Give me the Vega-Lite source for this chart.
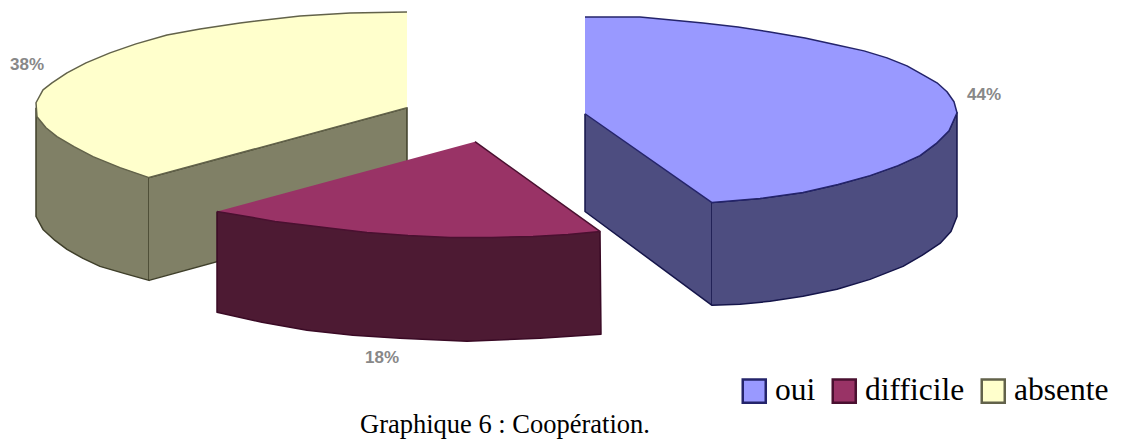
{
"$schema":"https://vega.github.io/schema/vega-lite/v6.json",
"autosize":{"type":"fit","contains":"padding"},
"width":1122,"height":439,"padding":0,
"background":"#ffffff",
"view":{"stroke":null},
"datasets":{
"faces":[
{"slice":"absente","face":"wall1","order":1,"x":36,"y":108},{"slice":"absente","face":"wall1","order":2,"x":36,"y":217},{"slice":"absente","face":"wall1","order":3,"x":43,"y":230},{"slice":"absente","face":"wall1","order":4,"x":55,"y":241},{"slice":"absente","face":"wall1","order":5,"x":67,"y":250},{"slice":"absente","face":"wall1","order":6,"x":83,"y":259},{"slice":"absente","face":"wall1","order":7,"x":100,"y":267},{"slice":"absente","face":"wall1","order":8,"x":124,"y":274},{"slice":"absente","face":"wall1","order":9,"x":149,"y":281},{"slice":"absente","face":"wall1","order":10,"x":149,"y":178},
{"slice":"absente","face":"wall2","order":1,"x":149,"y":178},{"slice":"absente","face":"wall2","order":2,"x":407,"y":108},{"slice":"absente","face":"wall2","order":3,"x":407,"y":210},{"slice":"absente","face":"wall2","order":4,"x":149,"y":281},
{"slice":"oui","face":"wall1","order":1,"x":585,"y":114},{"slice":"oui","face":"wall1","order":2,"x":585,"y":212},{"slice":"oui","face":"wall1","order":3,"x":712,"y":306},{"slice":"oui","face":"wall1","order":4,"x":712,"y":203},
{"slice":"oui","face":"wall2","order":1,"x":712,"y":203},{"slice":"oui","face":"wall2","order":2,"x":760,"y":199},{"slice":"oui","face":"wall2","order":3,"x":803,"y":193},{"slice":"oui","face":"wall2","order":4,"x":838,"y":185},{"slice":"oui","face":"wall2","order":5,"x":870,"y":176},{"slice":"oui","face":"wall2","order":6,"x":898,"y":166},{"slice":"oui","face":"wall2","order":7,"x":920,"y":156},{"slice":"oui","face":"wall2","order":8,"x":936,"y":144},{"slice":"oui","face":"wall2","order":9,"x":949,"y":131},{"slice":"oui","face":"wall2","order":10,"x":957,"y":113},{"slice":"oui","face":"wall2","order":11,"x":957,"y":217},{"slice":"oui","face":"wall2","order":12,"x":951,"y":232},{"slice":"oui","face":"wall2","order":13,"x":940,"y":244},{"slice":"oui","face":"wall2","order":14,"x":922,"y":256},{"slice":"oui","face":"wall2","order":15,"x":903,"y":267},{"slice":"oui","face":"wall2","order":16,"x":870,"y":280},{"slice":"oui","face":"wall2","order":17,"x":837,"y":290},{"slice":"oui","face":"wall2","order":18,"x":803,"y":297},{"slice":"oui","face":"wall2","order":19,"x":770,"y":302},{"slice":"oui","face":"wall2","order":20,"x":740,"y":305},{"slice":"oui","face":"wall2","order":21,"x":712,"y":306},
{"slice":"difficile","face":"wall1","order":1,"x":217,"y":212},{"slice":"difficile","face":"wall1","order":2,"x":217,"y":313},{"slice":"difficile","face":"wall1","order":3,"x":262,"y":323},{"slice":"difficile","face":"wall1","order":4,"x":307,"y":331},{"slice":"difficile","face":"wall1","order":5,"x":353,"y":336},{"slice":"difficile","face":"wall1","order":6,"x":400,"y":339},{"slice":"difficile","face":"wall1","order":7,"x":467,"y":342},{"slice":"difficile","face":"wall1","order":8,"x":540,"y":339},{"slice":"difficile","face":"wall1","order":9,"x":601,"y":335},{"slice":"difficile","face":"wall1","order":10,"x":600,"y":232}
],
"tops":[
{"slice":"absente","order":1,"x":407,"y":12},{"slice":"absente","order":2,"x":350,"y":13},{"slice":"absente","order":3,"x":300,"y":16},{"slice":"absente","order":4,"x":240,"y":23},{"slice":"absente","order":5,"x":200,"y":29},{"slice":"absente","order":6,"x":167,"y":35},{"slice":"absente","order":7,"x":136,"y":44},{"slice":"absente","order":8,"x":110,"y":53},{"slice":"absente","order":9,"x":86,"y":63},{"slice":"absente","order":10,"x":67,"y":73},{"slice":"absente","order":11,"x":52,"y":83},{"slice":"absente","order":12,"x":43,"y":90},{"slice":"absente","order":13,"x":36,"y":103},{"slice":"absente","order":14,"x":37,"y":117},{"slice":"absente","order":15,"x":46,"y":128},{"slice":"absente","order":16,"x":57,"y":137},{"slice":"absente","order":17,"x":74,"y":147},{"slice":"absente","order":18,"x":93,"y":157},{"slice":"absente","order":19,"x":120,"y":168},{"slice":"absente","order":20,"x":149,"y":178},{"slice":"absente","order":21,"x":407,"y":108},
{"slice":"difficile","order":1,"x":475,"y":142},{"slice":"difficile","order":2,"x":600,"y":232},{"slice":"difficile","order":3,"x":568,"y":235},{"slice":"difficile","order":4,"x":533,"y":237},{"slice":"difficile","order":5,"x":492,"y":238},{"slice":"difficile","order":6,"x":450,"y":238},{"slice":"difficile","order":7,"x":408,"y":236},{"slice":"difficile","order":8,"x":367,"y":233},{"slice":"difficile","order":9,"x":333,"y":229},{"slice":"difficile","order":10,"x":300,"y":225},{"slice":"difficile","order":11,"x":275,"y":222},{"slice":"difficile","order":12,"x":253,"y":218},{"slice":"difficile","order":13,"x":217,"y":212},
{"slice":"oui","order":1,"x":585,"y":17},{"slice":"oui","order":2,"x":640,"y":17},{"slice":"oui","order":3,"x":703,"y":23},{"slice":"oui","order":4,"x":738,"y":27},{"slice":"oui","order":5,"x":770,"y":32},{"slice":"oui","order":6,"x":805,"y":38},{"slice":"oui","order":7,"x":837,"y":45},{"slice":"oui","order":8,"x":864,"y":51},{"slice":"oui","order":9,"x":887,"y":58},{"slice":"oui","order":10,"x":907,"y":66},{"slice":"oui","order":11,"x":923,"y":75},{"slice":"oui","order":12,"x":937,"y":83},{"slice":"oui","order":13,"x":947,"y":92},{"slice":"oui","order":14,"x":954,"y":102},{"slice":"oui","order":15,"x":957,"y":113},{"slice":"oui","order":16,"x":949,"y":131},{"slice":"oui","order":17,"x":936,"y":144},{"slice":"oui","order":18,"x":920,"y":156},{"slice":"oui","order":19,"x":898,"y":166},{"slice":"oui","order":20,"x":870,"y":176},{"slice":"oui","order":21,"x":838,"y":185},{"slice":"oui","order":22,"x":803,"y":193},{"slice":"oui","order":23,"x":760,"y":199},{"slice":"oui","order":24,"x":712,"y":203},{"slice":"oui","order":25,"x":585,"y":114}
],
"labels":[{"label":"38%","x":10,"y":65},{"label":"44%","x":967,"y":95},{"label":"18%","x":365,"y":359}],
"caption":[{"label":"Graphique 6 : Coopération.","x":360,"y":434}]
},
"encoding":{
"x":{"field":"x","type":"quantitative","scale":{"domain":[0,1122],"nice":false,"zero":false},"axis":null},
"y":{"field":"y","type":"quantitative","scale":{"domain":[439,0],"nice":false,"zero":false},"axis":null}
},
"layer":[
{"data":{"name":"faces"},"transform":[{"filter":"datum.slice==='absente'"}],
 "mark":{"type":"line","fill":"#808066","stroke":"#3f3f2a","strokeWidth":1.5,"strokeJoin":"round"},
 "encoding":{"detail":{"field":"face"},"order":{"field":"order"}}},
{"data":{"name":"faces"},"transform":[{"filter":"datum.slice==='oui'"}],
 "mark":{"type":"line","fill":"#4D4D80","stroke":"#15154a","strokeWidth":1.5,"strokeJoin":"round"},
 "encoding":{"detail":{"field":"face"},"order":{"field":"order"}}},
{"data":{"name":"faces"},"transform":[{"filter":"datum.slice==='difficile'"}],
 "mark":{"type":"line","fill":"#4D1A33","stroke":"#3a0a25","strokeWidth":1.5,"strokeJoin":"round"},
 "encoding":{"detail":{"field":"face"},"order":{"field":"order"}}},
{"data":{"name":"tops"},
 "mark":{"type":"line","filled":true,"strokeWidth":1.5,"strokeJoin":"round"},
 "encoding":{
  "fill":{"field":"slice","type":"nominal","scale":{"domain":["oui","difficile","absente"],"range":["#9999FF","#993366","#FFFFCC"]},
   "legend":{"title":null,"orient":"none","legendX":738.5,"legendY":375,"direction":"horizontal","symbolType":"square","symbolSize":530,"symbolStrokeColor":"#000000","symbolStrokeWidth":2.5,"labelFont":"Liberation Serif","labelFontSize":31.5,"labelColor":"#000000","labelOffset":5,"columnPadding":12,"labelLimit":300}},
  "stroke":{"field":"slice","type":"nominal","scale":{"domain":["oui","difficile","absente"],"range":["#24246b","#4a1030","#62624a"]},"legend":null},
  "detail":{"field":"slice"},
  "order":{"field":"order"}}},
{"data":{"name":"labels"},
 "mark":{"type":"text","align":"left","baseline":"middle","font":"Liberation Sans","fontSize":17,"fontWeight":"bold","color":"#888888"},
 "encoding":{"text":{"field":"label"}}},
{"data":{"name":"caption"},
 "mark":{"type":"text","align":"left","baseline":"alphabetic","font":"Liberation Serif","fontSize":26.5,"color":"#000000"},
 "encoding":{"text":{"field":"label"}}}
]
}
